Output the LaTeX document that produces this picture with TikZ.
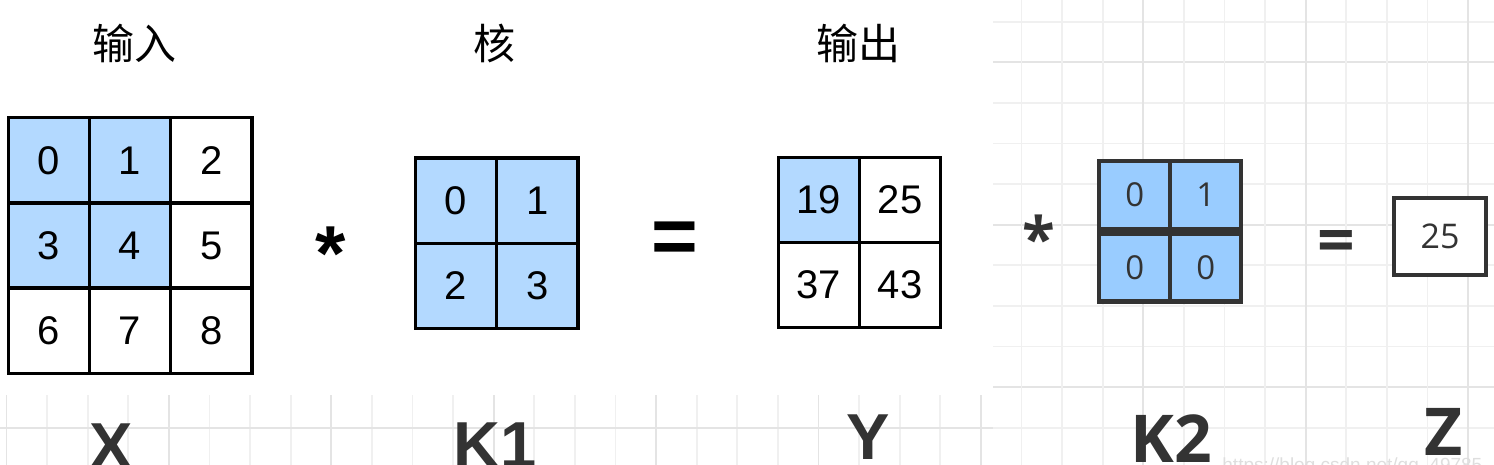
\documentclass[tikz,border=0pt]{standalone}
\usepackage{fontspec}
\setmainfont{Liberation Sans}
\newfontfamily\cjk{Noto Sans CJK SC}
\newfontfamily\osans{Open Sans}
\definecolor{cellblue}{HTML}{B3D9FF}
\definecolor{kblue}{HTML}{99CCFF}
\definecolor{dk}{HTML}{333333}
\definecolor{gridminor}{HTML}{F0F0F0}
\definecolor{gridmajor}{HTML}{E4E4E4}
\begin{document}
\begin{tikzpicture}[x=0.5pt,y=-0.5pt,
  cell/.style={draw=black, line width=1.65pt, minimum width=40.6pt, minimum height=42.6pt, inner sep=0pt, fill=white, font=\fontsize{20}{20}\selectfont},
  bcell/.style={cell, fill=cellblue},
  ktwo/.style={draw=dk, line width=2.15pt, fill=kblue, minimum width=35.5pt, minimum height=34pt, inner sep=0pt, text=dk, font=\osans\fontsize{16.5}{16.5}\selectfont},
  zbox/.style={draw=dk, line width=2pt, fill=white, minimum width=46.3pt, minimum height=38.5pt, inner sep=0pt, text=dk, font=\osans\fontsize{17}{17}\selectfont},
  title/.style={anchor=base, inner sep=0pt, font=\cjk\fontsize{21}{21}\selectfont},
  biglabel/.style={anchor=base, inner sep=0pt, text=dk, font=\bfseries\fontsize{32.5}{32.5}\selectfont},
  biglabeltwo/.style={anchor=base, inner sep=0pt, text=dk, font=\osans\bfseries\fontsize{33}{33}\selectfont},
  symb/.style={anchor=center, inner sep=0pt},
  minor/.style={draw=gridminor, line width=0.9pt},
  major/.style={draw=gridmajor, line width=0.9pt}
]
\useasboundingbox (0,0) rectangle (1494,465);
\begin{scope}
\clip (0,0) rectangle (1494,465);
% grid: bottom-left strip
\foreach \i in {0,...,24} {
  \pgfmathsetmacro\xx{6.4+40.6*\i}
  \pgfmathtruncatemacro\m{mod(\i,4)}
  \ifnum\m=0 \draw[major] (\xx,395) -- (\xx,465); \else \draw[minor] (\xx,395) -- (\xx,465); \fi
}
\draw[major] (0,427.7) -- (993,427.7);
% grid: right region
\foreach \j in {0,...,10} {
  \pgfmathsetmacro\yy{21.7+40.6*\j}
  \pgfmathtruncatemacro\m{mod(\j,4)}
  \ifnum\m=1 \draw[major] (993,\yy) -- (1494,\yy); \else \draw[minor] (993,\yy) -- (1494,\yy); \fi
}
\foreach \i in {25,...,36} {
  \pgfmathsetmacro\xx{6.4+40.6*\i}
  \pgfmathtruncatemacro\m{mod(\i,4)}
  \ifnum\m=0 \draw[major] (\xx,0) -- (\xx,465); \else \draw[minor] (\xx,0) -- (\xx,465); \fi
}
% watermark
\node[anchor=base west, inner sep=0pt, text=black!13, font=\fontsize{9.5}{9.5}\selectfont] (wm) at (1222,471) {https://blog.csdn.net/qq\_49785};
\end{scope}

% titles
\node[title] (tin) at (134.6,60) {输入};
\node[title] (tker) at (494,60) {核};
\node[title] (tout) at (858,60) {输出};

% X
\node[bcell] (x00) at (48.9,160.3) {0};
\node[bcell] (x01) at (130.1,160.3) {1};
\node[cell]  (x02) at (211.3,160.3) {2};
\node[bcell] (x10) at (48.9,245.5) {3};
\node[bcell] (x11) at (130.1,245.5) {4};
\node[cell]  (x12) at (211.3,245.5) {5};
\node[cell]  (x20) at (48.9,330.7) {6};
\node[cell]  (x21) at (130.1,330.7) {7};
\node[cell]  (x22) at (211.3,330.7) {8};

% K1
\node[bcell] (k00) at (456.1,200.7) {0};
\node[bcell] (k01) at (537.3,200.7) {1};
\node[bcell] (k10) at (456.1,285.9) {2};
\node[bcell] (k11) at (537.3,285.9) {3};

% Y
\node[bcell] (y00) at (818.9,199.9) {19};
\node[cell]  (y01) at (900.1,199.9) {25};
\node[cell]  (y10) at (818.9,285.1) {37};
\node[cell]  (y11) at (900.1,285.1) {43};

% operators
\node[symb, font=\bfseries\fontsize{39}{39}\selectfont] (star1) at (330.3,254) {*};
\node[symb, font=\bfseries\fontsize{40}{40}\selectfont] (eq1) at (674.7,243) {=};
\node[symb, text=dk, font=\osans\bfseries\fontsize{30}{30}\selectfont] (star2) at (1039.3,237.5) {*};
\node[symb, text=dk, font=\osans\bfseries\fontsize{33}{33}\selectfont] (eq2) at (1336,247) {=};

% K2
\node[ktwo] (q00) at (1134.7,195) {0};
\node[ktwo] (q01) at (1205.7,195) {1};
\node[ktwo] (q10) at (1134.7,267.5) {0};
\node[ktwo] (q11) at (1205.7,267.5) {0};

% Z
\node[zbox] (z) at (1440,236.2) {25};

% bottom labels
\node[biglabel] (lx) at (111,468.7) {X};
\node[biglabel] (lk1) at (495,467) {K1};
\node[biglabel] (ly) at (868,459) {Y};
\node[biglabeltwo] (lk2) at (1171,462) {K2};
\node[biglabeltwo] (lz) at (1443.5,455) {Z};
\end{tikzpicture}
\end{document}
